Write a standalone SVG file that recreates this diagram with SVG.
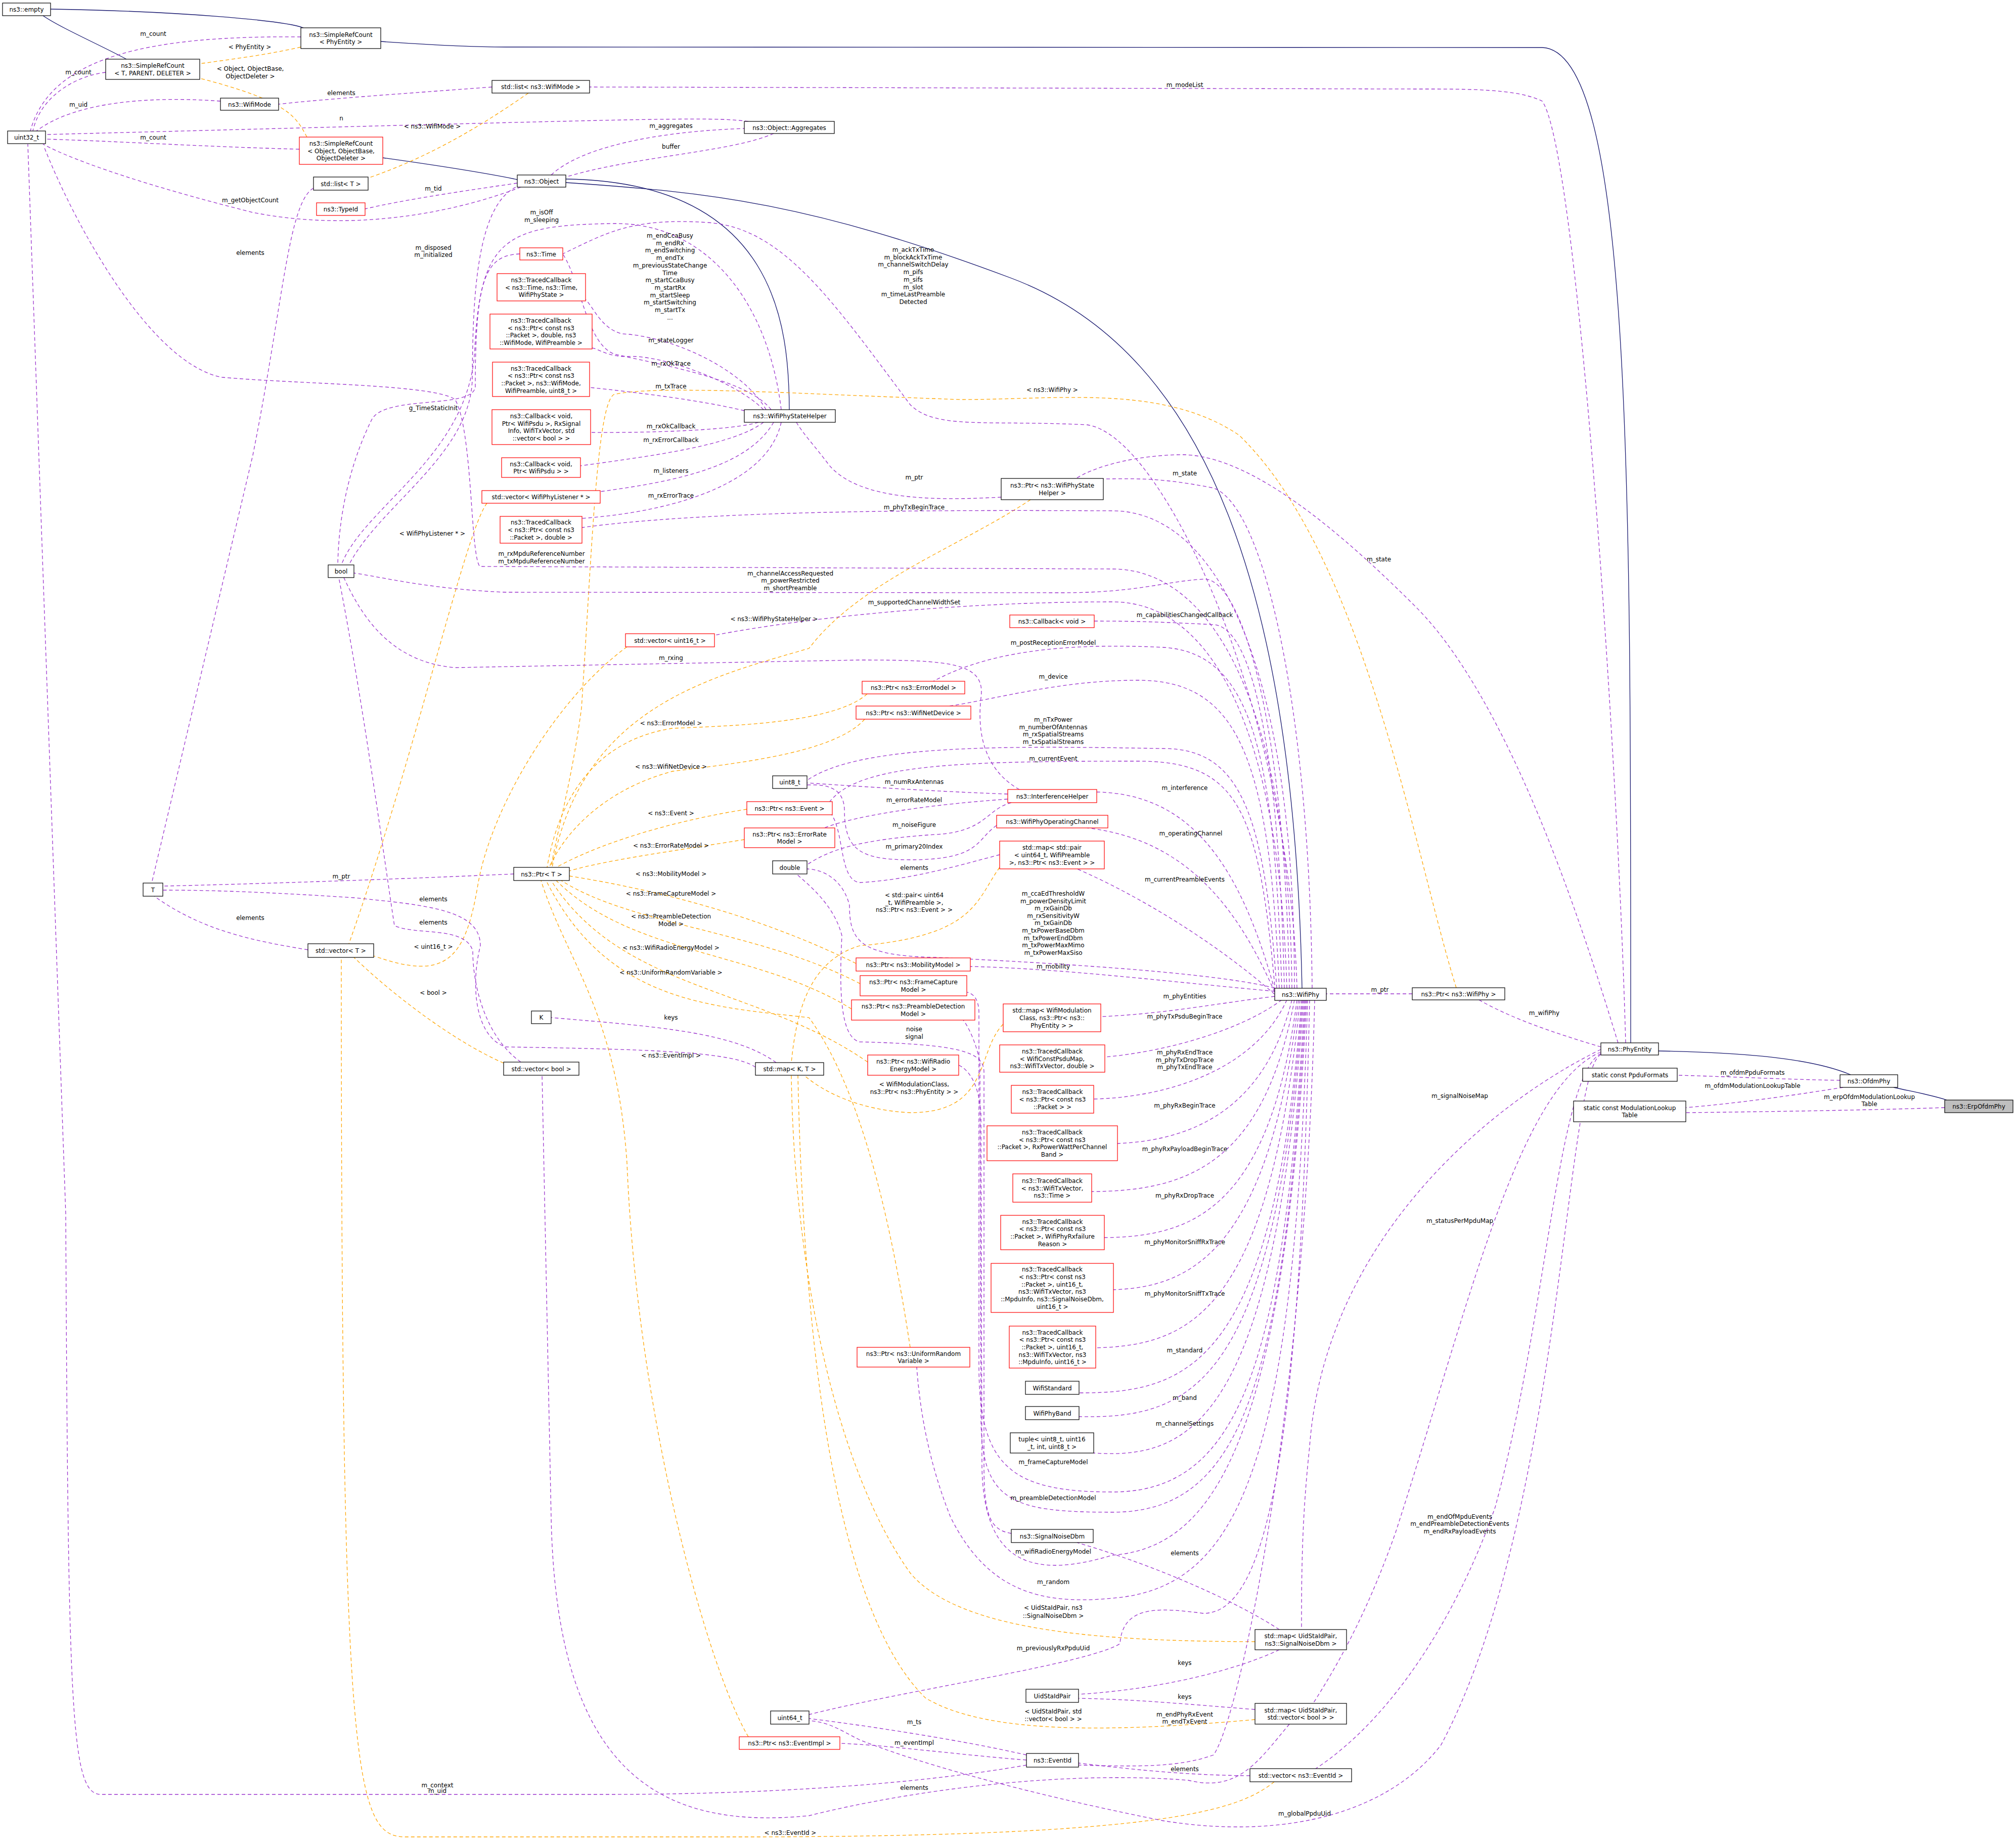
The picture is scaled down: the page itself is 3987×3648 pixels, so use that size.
<svg xmlns="http://www.w3.org/2000/svg" width="3987" height="3648" viewBox="0 0 3987 3648">
<style>
text{font-family:"DejaVu Sans","Liberation Sans",sans-serif;font-size:12px;text-anchor:middle;fill:#000}
rect{fill:#fff;stroke:#000;stroke-width:1.2}
rect.r{stroke:#f00}
rect.g{fill:#bfbfbf}
path{fill:none;stroke-width:1.3}
.e{stroke:#9a32cd;stroke-dasharray:7,5;marker-end:url(#mp)}
.o{stroke:#ffa500;stroke-dasharray:7,5;marker-end:url(#mo)}
.i{stroke:#191970;marker-end:url(#mi)}
</style>
<defs>
<marker id="mp" viewBox="0 0 10 10" refX="10" refY="5" markerWidth="15" markerHeight="11" markerUnits="userSpaceOnUse" orient="auto"><path d="M0,0L10,5L0,10z" fill="#9a32cd" stroke="none"/></marker>
<marker id="mo" viewBox="0 0 10 10" refX="10" refY="5" markerWidth="15" markerHeight="11" markerUnits="userSpaceOnUse" orient="auto"><path d="M0,0L10,5L0,10z" fill="#ffa500" stroke="none"/></marker>
<marker id="mi" viewBox="0 0 10 10" refX="10" refY="5" markerWidth="15" markerHeight="11" markerUnits="userSpaceOnUse" orient="auto"><path d="M0,0L10,5L0,10z" fill="#191970" stroke="none"/></marker>
</defs>
<rect x="0" y="0" width="3987" height="3648" style="stroke:none"/>
<g id="edges">
<path class="i" d="M600 55C560 40 350 22 100 18"/>
<path class="i" d="M250 117C200 90 120 55 85 31"/>
<path class="i" d="M1023 355C950 340 850 325 757 312"/>
<path class="i" d="M1561 810C1560 650 1540 360 1119 354"/>
<path class="i" d="M2575 1954C2560 1200 2400 700 2000 550S1400 380 1119 361"/>
<path class="i" d="M3225 2062C3225 1000 3230 100 3050 94L1000 93C900 93 800 85 753 82"/>
<path class="i" d="M3660 2125C3600 2100 3500 2082 3280 2078"/>
<path class="i" d="M3850 2175C3820 2165 3780 2158 3745 2150"/>
<path class="o" d="M595 93C520 110 450 118 395 126"/>
<path class="o" d="M607 271C585 230 570 200 396 155"/>
<path class="o" d="M1045 184C950 250 850 310 728 352"/>
<path class="o" d="M963 995C920 1050 820 1500 690 1866"/>
<path class="o" d="M1240 1279C1100 1380 970 1600 945 1750S880 1940 739 1890"/>
<path class="o" d="M996 2102C900 2060 780 1970 700 1893"/>
<path class="o" d="M2520 3523C2450 3580 2300 3630 1500 3632L800 3632C700 3630 675 3500 675 1893"/>
<path class="o" d="M2880 1953C2800 1700 2700 1100 2450 860C2300 760 2100 790 1900 790C1600 780 1300 760 1214 780C1180 800 1170 1100 1150 1400C1130 1550 1100 1650 1090 1715"/>
<path class="o" d="M2038 988C1900 1080 1700 1150 1600 1282C1400 1340 1150 1400 1092 1715"/>
<path class="o" d="M1715 1372C1650 1430 1450 1435 1330 1440C1200 1460 1110 1550 1082 1715"/>
<path class="o" d="M1710 1422C1650 1490 1450 1510 1330 1525C1200 1560 1120 1640 1086 1715"/>
<path class="o" d="M1477 1600C1350 1620 1200 1660 1100 1715"/>
<path class="o" d="M1472 1660C1350 1680 1200 1700 1126 1722"/>
<path class="o" d="M1693 1905C1500 1810 1300 1760 1126 1732"/>
<path class="o" d="M1701 1945C1500 1840 1250 1830 1110 1741"/>
<path class="o" d="M1684 1995C1500 1880 1250 1890 1100 1741"/>
<path class="o" d="M1716 2100C1500 1950 1230 1960 1090 1741"/>
<path class="o" d="M1800 2664C1760 2400 1700 2150 1600 2012C1400 1990 1200 1980 1080 1741"/>
<path class="o" d="M1480 3434C1400 3300 1260 2800 1240 2300C1220 2000 1120 1900 1070 1741"/>
<path class="o" d="M1977 1715C1930 1780 1930 1850 1700 1870C1600 1900 1575 2000 1565 2101"/>
<path class="o" d="M1984 2025C1930 2080 1960 2200 1800 2200C1700 2195 1630 2160 1590 2126"/>
<path class="o" d="M2482 3246C2200 3245 1900 3230 1800 3110C1650 2900 1570 2500 1565 2126"/>
<path class="o" d="M2482 3400C2200 3425 1950 3430 1830 3357C1660 3190 1590 2700 1578 2126"/>
<path class="e" d="M595 73C300 70 100 110 60 259"/>
<path class="e" d="M209 143C150 150 80 190 65 259"/>
<path class="e" d="M436 200C300 190 150 200 72 259"/>
<path class="e" d="M1480 240C1400 230 1300 235 90 266"/>
<path class="e" d="M592 295C400 290 250 280 90 275"/>
<path class="e" d="M1030 370C900 420 700 460 500 420C300 370 150 320 85 285"/>
<path class="e" d="M2030 3490C1800 3530 1500 3548 1200 3548L200 3548C140 3548 135 3400 130 2400L55 285"/>
<path class="e" d="M973 172C800 185 650 195 551 206"/>
<path class="e" d="M3215 2062C3200 1500 3120 300 3050 200C3000 175 2900 176 2800 176L1166 172"/>
<path class="e" d="M1090 346C1150 290 1300 260 1472 254"/>
<path class="e" d="M1530 264C1450 300 1250 310 1119 350"/>
<path class="e" d="M1023 362C900 380 800 395 722 413"/>
<path class="e" d="M620 372C570 400 560 600 500 900L300 1746"/>
<path class="e" d="M1020 370C940 410 935 600 934 750C930 900 750 1000 690 1117"/>
<path class="e" d="M1028 502C960 505 940 550 940 765C935 810 760 780 735 830C700 900 670 1000 668 1117"/>
<path class="e" d="M1545 810C1520 600 1400 440 1214 442C1000 445 950 470 939 689C930 900 720 1000 675 1117"/>
<path class="e" d="M1525 810C1480 750 1300 720 1215 700C1160 680 1150 560 1113 502"/>
<path class="e" d="M2565 1954C2550 1400 2300 860 2150 840C1950 830 1850 850 1800 800C1650 600 1550 450 1400 440C1250 430 1200 460 1113 502"/>
<path class="e" d="M1515 810C1470 730 1330 665 1230 660C1190 650 1175 610 1158 592"/>
<path class="e" d="M1510 810C1450 750 1300 700 1240 705C1200 705 1185 690 1171 688"/>
<path class="e" d="M1472 812C1380 790 1250 775 1166 766"/>
<path class="e" d="M1500 835C1450 850 1300 856 1168 855"/>
<path class="e" d="M1510 835C1450 880 1300 900 1148 921"/>
<path class="e" d="M1530 835C1480 920 1350 950 1187 972"/>
<path class="e" d="M1545 835C1520 950 1350 1010 1151 1025"/>
<path class="e" d="M2560 1954C2560 1300 2400 1010 2200 1010C1800 1008 1400 1010 1151 1043"/>
<path class="e" d="M2555 1954C2550 1400 2400 1125 2200 1125L949 1120C930 1100 935 850 900 790C860 760 600 760 439 746C300 720 150 450 87 290"/>
<path class="e" d="M2550 1954C2540 1400 2450 1140 2380 1145C2300 1150 2250 1172 2100 1172L1000 1171C850 1165 750 1140 700 1133"/>
<path class="e" d="M2545 1954C2530 1450 2400 1190 2200 1190C1900 1190 1600 1220 1413 1256"/>
<path class="e" d="M2016 1561C1960 1530 1930 1470 1940 1380C1950 1310 1880 1305 1700 1305L900 1320C780 1310 720 1230 680 1142"/>
<path class="e" d="M2540 1954C2530 1500 2480 1240 2400 1235C2300 1230 2250 1228 2164 1228"/>
<path class="e" d="M2535 1954C2520 1500 2480 1290 2300 1280C2100 1270 1950 1290 1846 1347"/>
<path class="e" d="M2530 1954C2510 1500 2450 1345 2250 1345C2100 1345 1980 1380 1878 1396"/>
<path class="e" d="M2525 1954C2500 1600 2450 1480 2300 1480C2000 1475 1700 1470 1596 1543"/>
<path class="e" d="M2522 1960C2490 1600 2450 1505 2250 1505C1900 1505 1700 1510 1641 1585"/>
<path class="e" d="M1993 1570C1850 1565 1700 1555 1596 1548"/>
<path class="e" d="M1993 1580C1850 1590 1700 1610 1630 1637"/>
<path class="e" d="M2000 1587C1950 1600 1950 1645 1850 1650C1700 1660 1640 1680 1596 1710"/>
<path class="e" d="M1971 1632C1930 1660 1940 1700 1800 1700C1700 1700 1670 1680 1670 1600C1668 1560 1640 1550 1596 1552"/>
<path class="e" d="M1977 1690C1900 1710 1800 1740 1700 1745C1660 1740 1670 1650 1645 1611"/>
<path class="e" d="M2521 1958C2450 1700 2350 1570 2169 1566"/>
<path class="e" d="M2521 1962C2450 1800 2350 1660 2150 1637"/>
<path class="e" d="M2521 1966C2400 1860 2250 1770 2130 1718"/>
<path class="e" d="M2521 1954C2400 1920 2000 1900 1850 1893C1700 1890 1680 1860 1680 1790C1670 1750 1640 1720 1596 1718"/>
<path class="e" d="M2521 1960C2300 1940 2100 1915 1919 1911"/>
<path class="e" d="M2521 1970C2400 1985 2300 2005 2177 2010"/>
<path class="e" d="M2535 1977C2450 2040 2300 2080 2185 2090"/>
<path class="e" d="M2545 1977C2480 2120 2300 2170 2163 2173"/>
<path class="e" d="M2555 1977C2500 2200 2350 2255 2210 2261"/>
<path class="e" d="M2560 1977C2500 2300 2350 2355 2159 2356"/>
<path class="e" d="M2565 1977C2510 2400 2350 2445 2184 2447"/>
<path class="e" d="M2568 1977C2510 2480 2350 2545 2202 2550"/>
<path class="e" d="M2571 1977C2510 2600 2350 2660 2167 2665"/>
<path class="e" d="M2574 1977C2520 2700 2350 2755 2134 2754"/>
<path class="e" d="M2576 1977C2520 2750 2350 2805 2134 2801"/>
<path class="e" d="M2578 1977C2520 2820 2350 2885 2163 2873"/>
<path class="e" d="M2580 1977C2540 2700 2450 2950 2200 2950C2000 2950 1936 2900 1936 2700L1936 2000C1935 1975 1925 1965 1913 1962"/>
<path class="e" d="M2582 1977C2540 2750 2450 2990 2200 2990C2000 2990 1940 2970 1940 2800L1938 2100C1930 2060 1915 2030 1905 2017"/>
<path class="e" d="M2584 1977C2540 2850 2400 3060 2200 3075C2050 3120 1945 3100 1942 2900L1940 2200C1935 2140 1915 2115 1896 2106"/>
<path class="e" d="M2586 1977C2560 2900 2450 3140 2200 3160C2050 3175 1950 3140 1880 3000C1840 2900 1820 2800 1813 2703"/>
<path class="e" d="M2000 3032C1960 3025 1946 3000 1946 2900L1946 2120C1946 2080 1900 2065 1700 2060C1660 2050 1660 1950 1665 1850C1650 1790 1600 1750 1575 1728"/>
<path class="e" d="M2590 1977C2570 2900 2500 3190 2380 3190C2300 3180 2220 3170 2215 3250C2150 3290 1800 3340 1600 3390"/>
<path class="e" d="M2600 1977C2580 2800 2450 3400 2400 3470C2330 3495 2250 3493 2133 3490"/>
<path class="e" d="M2530 3222C2450 3170 2300 3100 2130 3050"/>
<path class="e" d="M2530 3262C2450 3300 2300 3340 2133 3350"/>
<path class="e" d="M2482 3380C2350 3370 2250 3360 2133 3358"/>
<path class="e" d="M2550 3409C2490 3480 2450 3545 2350 3520C2100 3500 1800 3540 1600 3590C1300 3620 1100 3500 1090 3000L1072 2126"/>
<path class="e" d="M2472 3511C2350 3510 2250 3500 2133 3486"/>
<path class="e" d="M2030 3470C1900 3440 1700 3410 1600 3398"/>
<path class="e" d="M2030 3480C1900 3470 1750 3450 1661 3447"/>
<path class="e" d="M3166 2085C3095 2120 3090 3000 2850 3450C2750 3580 2550 3640 2300 3600C2000 3540 1800 3480 1700 3440C1660 3420 1640 3405 1600 3402"/>
<path class="e" d="M1535 2101C1450 2040 1300 2030 1090 2012"/>
<path class="e" d="M1494 2110C1450 2080 1300 2075 1000 2070C940 2050 930 1950 950 1870C950 1800 850 1790 700 1775C500 1762 400 1760 322 1760"/>
<path class="e" d="M1030 2100C960 2050 935 1950 935 1880C920 1830 820 1850 780 1830C760 1700 720 1400 670 1142"/>
<path class="e" d="M1016 1728C800 1738 500 1748 322 1752"/>
<path class="e" d="M609 1878C500 1860 400 1840 305 1772"/>
<path class="e" d="M1980 983C1850 990 1700 990 1640 920C1610 880 1590 860 1575 835"/>
<path class="e" d="M2595 1954C2590 1400 2500 1000 2400 965C2300 945 2250 946 2182 947"/>
<path class="e" d="M3200 2062C3150 1900 3000 1400 2800 1200C2600 1000 2450 900 2338 899C2250 900 2170 920 2128 946"/>
<path class="e" d="M2793 1965L2623 1965"/>
<path class="e" d="M3166 2070C3100 2050 3000 2020 2925 1977"/>
<path class="e" d="M3166 2075C2950 2180 2620 2450 2590 2860C2575 3000 2574 3100 2574 3222"/>
<path class="e" d="M3166 2080C3000 2150 2900 2600 2760 3030C2700 3200 2640 3300 2597 3368"/>
<path class="e" d="M3166 2083C3080 2130 3060 2600 2957 2980C2880 3200 2750 3400 2602 3497"/>
<path class="e" d="M3639 2136C3550 2135 3400 2128 3317 2126"/>
<path class="e" d="M3645 2150C3550 2165 3450 2180 3334 2190"/>
<path class="e" d="M3846 2190C3700 2195 3500 2198 3334 2200"/>
</g>
<g id="labels">
<text x="303" y="71">m_count</text>
<text x="494" y="97">&lt; PhyEntity &gt;</text>
<text x="155" y="147">m_count</text>
<text x="495" y="140">&lt; Object, ObjectBase,</text><text x="495" y="155">ObjectDeleter &gt;</text>
<text x="675" y="188">elements</text>
<text x="155" y="211">m_uid</text>
<text x="675" y="238">n</text>
<text x="855" y="254">&lt; ns3::WifiMode &gt;</text>
<text x="1327" y="253">m_aggregates</text>
<text x="303" y="276">m_count</text>
<text x="1327" y="294">buffer</text>
<text x="857" y="377">m_tid</text>
<text x="495" y="400">m_getObjectCount</text>
<text x="1071" y="424">m_isOff</text><text x="1071" y="439">m_sleeping</text>
<text x="857" y="494">m_disposed</text><text x="857" y="508">m_initialized</text>
<text x="495" y="504">elements</text>
<text x="1325" y="470"><tspan x="1325">m_endCcaBusy</tspan><tspan x="1325" dy="14.7">m_endRx</tspan><tspan x="1325" dy="14.7">m_endSwitching</tspan><tspan x="1325" dy="14.7">m_endTx</tspan><tspan x="1325" dy="14.7">m_previousStateChange</tspan><tspan x="1325" dy="14.7">Time</tspan><tspan x="1325" dy="14.7">m_startCcaBusy</tspan><tspan x="1325" dy="14.7">m_startRx</tspan><tspan x="1325" dy="14.7">m_startSleep</tspan><tspan x="1325" dy="14.7">m_startSwitching</tspan><tspan x="1325" dy="14.7">m_startTx</tspan><tspan x="1325" dy="14.7">...</tspan></text>
<text x="1327" y="677">m_stateLogger</text>
<text x="1327" y="723">m_rxOkTrace</text>
<text x="1327" y="768">m_txTrace</text>
<text x="857" y="811">g_TimeStaticInit</text>
<text x="1327" y="847">m_rxOkCallback</text>
<text x="1327" y="874">m_rxErrorCallback</text>
<text x="1327" y="935">m_listeners</text>
<text x="1327" y="984">m_rxErrorTrace</text>
<text x="855" y="1059">&lt; WifiPhyListener * &gt;</text>
<text x="1071" y="1099">m_rxMpduReferenceNumber</text><text x="1071" y="1114">m_txMpduReferenceNumber</text>
<text x="2343" y="172">m_modeList</text>
<text x="1806" y="498"><tspan x="1806">m_ackTxTime</tspan><tspan x="1806" dy="14.7">m_blockAckTxTime</tspan><tspan x="1806" dy="14.7">m_channelSwitchDelay</tspan><tspan x="1806" dy="14.7">m_pifs</tspan><tspan x="1806" dy="14.7">m_sifs</tspan><tspan x="1806" dy="14.7">m_slot</tspan><tspan x="1806" dy="14.7">m_timeLastPreamble</tspan><tspan x="1806" dy="14.7">Detected</tspan></text>
<text x="2081" y="775">&lt; ns3::WifiPhy &gt;</text>
<text x="2343" y="940">m_state</text>
<text x="1808" y="948">m_ptr</text>
<text x="1808" y="1007">m_phyTxBeginTrace</text>
<text x="2727" y="1110">m_state</text>
<text x="1563" y="1138">m_channelAccessRequested</text><text x="1563" y="1152">m_powerRestricted</text><text x="1563" y="1167">m_shortPreamble</text>
<text x="1808" y="1195">m_supportedChannelWidthSet</text>
<text x="1531" y="1228">&lt; ns3::WifiPhyStateHelper &gt;</text>
<text x="1327" y="1305">m_rxing</text>
<text x="1327" y="1434">&lt; ns3::ErrorModel &gt;</text>
<text x="1327" y="1520">&lt; ns3::WifiNetDevice &gt;</text>
<text x="1327" y="1612">&lt; ns3::Event &gt;</text>
<text x="1327" y="1676">&lt; ns3::ErrorRateModel &gt;</text>
<text x="1327" y="1732">&lt; ns3::MobilityModel &gt;</text>
<text x="675" y="1737">m_ptr</text>
<text x="1327" y="1771">&lt; ns3::FrameCaptureModel &gt;</text>
<text x="857" y="1782">elements</text>
<text x="1327" y="1816">&lt; ns3::PreambleDetection</text><text x="1327" y="1831">Model &gt;</text>
<text x="495" y="1819">elements</text>
<text x="857" y="1828">elements</text>
<text x="857" y="1876">&lt; uint16_t &gt;</text>
<text x="1327" y="1878">&lt; ns3::WifiRadioEnergyModel &gt;</text>
<text x="1327" y="1927">&lt; ns3::UniformRandomVariable &gt;</text>
<text x="857" y="1967">&lt; bool &gt;</text>
<text x="1327" y="2016">keys</text>
<text x="1327" y="2091">&lt; ns3::EventImpl &gt;</text>
<text x="2343" y="1220">m_capabilitiesChangedCallback</text>
<text x="2083" y="1275">m_postReceptionErrorModel</text>
<text x="2083" y="1342">m_device</text>
<text x="2083" y="1427"><tspan x="2083">m_nTxPower</tspan><tspan x="2083" dy="14.7">m_numberOfAntennas</tspan><tspan x="2083" dy="14.7">m_rxSpatialStreams</tspan><tspan x="2083" dy="14.7">m_txSpatialStreams</tspan></text>
<text x="2083" y="1504">m_currentEvent</text>
<text x="1808" y="1550">m_numRxAntennas</text>
<text x="2343" y="1562">m_interference</text>
<text x="1808" y="1586">m_errorRateModel</text>
<text x="1808" y="1635">m_noiseFigure</text>
<text x="2355" y="1652">m_operatingChannel</text>
<text x="1808" y="1678">m_primary20Index</text>
<text x="1808" y="1720">elements</text>
<text x="2343" y="1743">m_currentPreambleEvents</text>
<text x="1808" y="1774"><tspan x="1808">&lt; std::pair&lt; uint64</tspan><tspan x="1808" dy="14.7">_t, WifiPreamble &gt;,</tspan><tspan x="1808" dy="14.7">ns3::Ptr&lt; ns3::Event &gt; &gt;</tspan></text>
<text x="2083" y="1771"><tspan x="2083">m_ccaEdThresholdW</tspan><tspan x="2083" dy="14.6">m_powerDensityLimit</tspan><tspan x="2083" dy="14.6">m_rxGainDb</tspan><tspan x="2083" dy="14.6">m_rxSensitivityW</tspan><tspan x="2083" dy="14.6">m_txGainDb</tspan><tspan x="2083" dy="14.6">m_txPowerBaseDbm</tspan><tspan x="2083" dy="14.6">m_txPowerEndDbm</tspan><tspan x="2083" dy="14.6">m_txPowerMaxMimo</tspan><tspan x="2083" dy="14.6">m_txPowerMaxSiso</tspan></text>
<text x="2083" y="1915">m_mobility</text>
<text x="2343" y="1974">m_phyEntities</text>
<text x="2343" y="2014">m_phyTxPsduBeginTrace</text>
<text x="1808" y="2039">noise</text><text x="1808" y="2054">signal</text>
<text x="2343" y="2085">m_phyRxEndTrace</text><text x="2343" y="2100">m_phyTxDropTrace</text><text x="2343" y="2114">m_phyTxEndTrace</text>
<text x="1808" y="2148">&lt; WifiModulationClass,</text><text x="1808" y="2163">ns3::Ptr&lt; ns3::PhyEntity &gt; &gt;</text>
<text x="2343" y="2190">m_phyRxBeginTrace</text>
<text x="2343" y="2276">m_phyRxPayloadBeginTrace</text>
<text x="2343" y="2368">m_phyRxDropTrace</text>
<text x="2343" y="2460">m_phyMonitorSniffRxTrace</text>
<text x="2343" y="2562">m_phyMonitorSniffTxTrace</text>
<text x="2343" y="2674">m_standard</text>
<text x="2343" y="2768">m_band</text>
<text x="2343" y="2819">m_channelSettings</text>
<text x="2083" y="2895">m_frameCaptureModel</text>
<text x="2083" y="2966">m_preambleDetectionModel</text>
<text x="2083" y="3072">m_wifiRadioEnergyModel</text>
<text x="2343" y="3075">elements</text>
<text x="2083" y="3132">m_random</text>
<text x="2083" y="3183">&lt; UidStaIdPair, ns3</text><text x="2083" y="3199">::SignalNoiseDbm &gt;</text>
<text x="2083" y="3263">m_previouslyRxPpduUid</text>
<text x="2343" y="3292">keys</text>
<text x="2343" y="3359">keys</text>
<text x="2083" y="3388">&lt; UidStaIdPair, std</text><text x="2083" y="3403">::vector&lt; bool &gt; &gt;</text>
<text x="2343" y="3394">m_endPhyRxEvent</text><text x="2343" y="3408">m_endTxEvent</text>
<text x="1808" y="3409">m_ts</text>
<text x="1808" y="3450">m_eventImpl</text>
<text x="2343" y="3502">elements</text>
<text x="1808" y="3539">elements</text>
<text x="865" y="3534">m_context</text><text x="865" y="3545">m_uid</text>
<text x="2580" y="3590">m_globalPpduUid</text>
<text x="1563" y="3628">&lt; ns3::EventId &gt;</text>
<text x="2729" y="1961">m_ptr</text>
<text x="3054" y="2007">m_wifiPhy</text>
<text x="3466" y="2125">m_ofdmPpduFormats</text>
<text x="3466" y="2151">m_ofdmModulationLookupTable</text>
<text x="3697" y="2173">m_erpOfdmModulationLookup</text><text x="3697" y="2187">Table</text>
<text x="2887" y="2171">m_signalNoiseMap</text>
<text x="2887" y="2418">m_statusPerMpduMap</text>
<text x="2887" y="3003">m_endOfMpduEvents</text><text x="2887" y="3017">m_endPreambleDetectionEvents</text><text x="2887" y="3032">m_endRxPayloadEvents</text>
</g>
<g id="empty"><rect x="5" y="6" width="95" height="25"/><text x="52.5" y="23">ns3::empty</text></g>
<g id="src_phy"><rect x="595" y="55" width="158" height="41"/><text x="674" y="72.7"><tspan x="674">ns3::SimpleRefCount</tspan><tspan x="674" dy="14.7">&lt; PhyEntity &gt;</tspan></text></g>
<g id="src_tpd"><rect x="209" y="117" width="186" height="40"/><text x="302" y="134"><tspan x="302">ns3::SimpleRefCount</tspan><tspan x="302" dy="14.7">&lt; T, PARENT, DELETER &gt;</tspan></text></g>
<g id="listmode"><rect x="973" y="159" width="193" height="25"/><text x="1069.5" y="176">std::list&lt; ns3::WifiMode &gt;</text></g>
<g id="wifimode"><rect x="436" y="194" width="115" height="24"/><text x="493.5" y="210.5">ns3::WifiMode</text></g>
<g id="uint32"><rect x="15" y="259" width="75" height="25"/><text x="52.5" y="276">uint32_t</text></g>
<g id="aggr"><rect x="1472" y="240" width="178" height="24"/><text x="1561" y="256.5">ns3::Object::Aggregates</text></g>
<g id="src_obj"><rect class="r" x="592" y="271" width="165" height="54"/><text x="674.5" y="287.8"><tspan x="674.5">ns3::SimpleRefCount</tspan><tspan x="674.5" dy="14.7">&lt; Object, ObjectBase,</tspan><tspan x="674.5" dy="14.7">ObjectDeleter &gt;</tspan></text></g>
<g id="object"><rect x="1023" y="346" width="96" height="24"/><text x="1071" y="362.5">ns3::Object</text></g>
<g id="listT"><rect x="620" y="350" width="108" height="26"/><text x="674" y="367.5">std::list&lt; T &gt;</text></g>
<g id="typeid"><rect class="r" x="626" y="401" width="96" height="25"/><text x="674" y="418">ns3::TypeId</text></g>
<g id="time"><rect class="r" x="1028" y="490" width="85" height="24"/><text x="1070.5" y="506.5">ns3::Time</text></g>
<g id="tc1"><rect class="r" x="983" y="541" width="175" height="54"/><text x="1070.5" y="557.8"><tspan x="1070.5">ns3::TracedCallback</tspan><tspan x="1070.5" dy="14.7">&lt; ns3::Time, ns3::Time,</tspan><tspan x="1070.5" dy="14.7">WifiPhyState &gt;</tspan></text></g>
<g id="tc2"><rect class="r" x="969" y="621" width="202" height="69"/><text x="1070" y="638"><tspan x="1070">ns3::TracedCallback</tspan><tspan x="1070" dy="14.7">&lt; ns3::Ptr&lt; const ns3</tspan><tspan x="1070" dy="14.7">::Packet &gt;, double, ns3</tspan><tspan x="1070" dy="14.7">::WifiMode, WifiPreamble &gt;</tspan></text></g>
<g id="tc3"><rect class="r" x="974" y="716" width="192" height="68"/><text x="1070" y="732.5"><tspan x="1070">ns3::TracedCallback</tspan><tspan x="1070" dy="14.7">&lt; ns3::Ptr&lt; const ns3</tspan><tspan x="1070" dy="14.7">::Packet &gt;, ns3::WifiMode,</tspan><tspan x="1070" dy="14.7">WifiPreamble, uint8_t &gt;</tspan></text></g>
<g id="cb1"><rect class="r" x="973" y="810" width="195" height="69"/><text x="1070.5" y="827"><tspan x="1070.5">ns3::Callback&lt; void,</tspan><tspan x="1070.5" dy="14.7">Ptr&lt; WifiPsdu &gt;, RxSignal</tspan><tspan x="1070.5" dy="14.7">Info, WifiTxVector, std</tspan><tspan x="1070.5" dy="14.7">::vector&lt; bool &gt; &gt;</tspan></text></g>
<g id="cb2"><rect class="r" x="992" y="905" width="156" height="39"/><text x="1070" y="921.7"><tspan x="1070">ns3::Callback&lt; void,</tspan><tspan x="1070" dy="14.7">Ptr&lt; WifiPsdu &gt; &gt;</tspan></text></g>
<g id="veclisten"><rect class="r" x="953" y="970" width="234" height="25"/><text x="1070" y="987">std::vector&lt; WifiPhyListener * &gt;</text></g>
<g id="tc4"><rect class="r" x="989" y="1021" width="162" height="53"/><text x="1070" y="1037.3"><tspan x="1070">ns3::TracedCallback</tspan><tspan x="1070" dy="14.7">&lt; ns3::Ptr&lt; const ns3</tspan><tspan x="1070" dy="14.7">::Packet &gt;, double &gt;</tspan></text></g>
<g id="bool"><rect x="649" y="1117" width="51" height="25"/><text x="674.5" y="1134">bool</text></g>
<g id="wpsh"><rect x="1472" y="810" width="180" height="25"/><text x="1562" y="827">ns3::WifiPhyStateHelper</text></g>
<g id="ptrwpsh"><rect x="1980" y="946" width="202" height="42"/><text x="2081" y="964.2"><tspan x="2081">ns3::Ptr&lt; ns3::WifiPhyState</tspan><tspan x="2081" dy="14.7">Helper &gt;</tspan></text></g>
<g id="vecu16"><rect class="r" x="1237" y="1253" width="176" height="26"/><text x="1325" y="1270.5">std::vector&lt; uint16_t &gt;</text></g>
<g id="cbvoid"><rect class="r" x="1997" y="1216" width="167" height="25"/><text x="2080.5" y="1233">ns3::Callback&lt; void &gt;</text></g>
<g id="ptrerr"><rect class="r" x="1705" y="1347" width="203" height="25"/><text x="1806.5" y="1364">ns3::Ptr&lt; ns3::ErrorModel &gt;</text></g>
<g id="ptrnd"><rect class="r" x="1693" y="1396" width="227" height="26"/><text x="1806.5" y="1413.5">ns3::Ptr&lt; ns3::WifiNetDevice &gt;</text></g>
<g id="uint8"><rect x="1528" y="1534" width="68" height="25"/><text x="1562" y="1551">uint8_t</text></g>
<g id="ptrevent"><rect class="r" x="1477" y="1585" width="169" height="26"/><text x="1561.5" y="1602.5">ns3::Ptr&lt; ns3::Event &gt;</text></g>
<g id="ifh"><rect class="r" x="1993" y="1561" width="176" height="26"/><text x="2081" y="1578.5">ns3::InterferenceHelper</text></g>
<g id="ptrerm"><rect class="r" x="1472" y="1637" width="179" height="39"/><text x="1561.5" y="1653.7"><tspan x="1561.5">ns3::Ptr&lt; ns3::ErrorRate</tspan><tspan x="1561.5" dy="14.7">Model &gt;</tspan></text></g>
<g id="opch"><rect class="r" x="1971" y="1612" width="220" height="25"/><text x="2081" y="1629">ns3::WifiPhyOperatingChannel</text></g>
<g id="mappair"><rect class="r" x="1977" y="1663" width="207" height="55"/><text x="2080.5" y="1680.3"><tspan x="2080.5">std::map&lt; std::pair</tspan><tspan x="2080.5" dy="14.7">&lt; uint64_t, WifiPreamble</tspan><tspan x="2080.5" dy="14.7">&gt;, ns3::Ptr&lt; ns3::Event &gt; &gt;</tspan></text></g>
<g id="double"><rect x="1528" y="1702" width="68" height="26"/><text x="1562" y="1719.5">double</text></g>
<g id="ptrT"><rect x="1016" y="1715" width="110" height="26"/><text x="1071" y="1732.5">ns3::Ptr&lt; T &gt;</text></g>
<g id="T"><rect x="283" y="1746" width="39" height="26"/><text x="302.5" y="1763.5">T</text></g>
<g id="vecT"><rect x="609" y="1866" width="130" height="27"/><text x="674" y="1884">std::vector&lt; T &gt;</text></g>
<g id="ptrmob"><rect class="r" x="1693" y="1894" width="226" height="26"/><text x="1806" y="1911.5">ns3::Ptr&lt; ns3::MobilityModel &gt;</text></g>
<g id="ptrfc"><rect class="r" x="1701" y="1929" width="211" height="40"/><text x="1806.5" y="1946.2"><tspan x="1806.5">ns3::Ptr&lt; ns3::FrameCapture</tspan><tspan x="1806.5" dy="14.7">Model &gt;</tspan></text></g>
<g id="ptrpd"><rect class="r" x="1684" y="1977" width="244" height="40"/><text x="1806" y="1994.2"><tspan x="1806">ns3::Ptr&lt; ns3::PreambleDetection</tspan><tspan x="1806" dy="14.7">Model &gt;</tspan></text></g>
<g id="mapmod"><rect class="r" x="1984" y="1985" width="193" height="55"/><text x="2080.5" y="2002.3"><tspan x="2080.5">std::map&lt; WifiModulation</tspan><tspan x="2080.5" dy="14.7">Class, ns3::Ptr&lt; ns3::</tspan><tspan x="2080.5" dy="14.7">PhyEntity &gt; &gt;</tspan></text></g>
<g id="K"><rect x="1051" y="1999" width="39" height="25"/><text x="1070.5" y="2016">K</text></g>
<g id="vecbool"><rect x="996" y="2100" width="149" height="26"/><text x="1070.5" y="2117.5">std::vector&lt; bool &gt;</text></g>
<g id="mapKT"><rect x="1494" y="2101" width="135" height="25"/><text x="1561.5" y="2118">std::map&lt; K, T &gt;</text></g>
<g id="ptrre"><rect class="r" x="1716" y="2086" width="180" height="40"/><text x="1806" y="2103.2"><tspan x="1806">ns3::Ptr&lt; ns3::WifiRadio</tspan><tspan x="1806" dy="14.7">EnergyModel &gt;</tspan></text></g>
<g id="tc5"><rect class="r" x="1977" y="2066" width="208" height="54"/><text x="2081" y="2082.8"><tspan x="2081">ns3::TracedCallback</tspan><tspan x="2081" dy="14.7">&lt; WifiConstPsduMap,</tspan><tspan x="2081" dy="14.7">ns3::WifiTxVector, double &gt;</tspan></text></g>
<g id="wifiphy"><rect x="2521" y="1954" width="102" height="24"/><text x="2572" y="1970.5">ns3::WifiPhy</text></g>
<g id="tc6"><rect class="r" x="2000" y="2146" width="163" height="55"/><text x="2081.5" y="2163.3"><tspan x="2081.5">ns3::TracedCallback</tspan><tspan x="2081.5" dy="14.7">&lt; ns3::Ptr&lt; const ns3</tspan><tspan x="2081.5" dy="14.7">::Packet &gt; &gt;</tspan></text></g>
<g id="tc7"><rect class="r" x="1952" y="2226" width="258" height="69"/><text x="2081" y="2243"><tspan x="2081">ns3::TracedCallback</tspan><tspan x="2081" dy="14.7">&lt; ns3::Ptr&lt; const ns3</tspan><tspan x="2081" dy="14.7">::Packet &gt;, RxPowerWattPerChannel</tspan><tspan x="2081" dy="14.7">Band &gt;</tspan></text></g>
<g id="tc8"><rect class="r" x="2003" y="2321" width="156" height="56"/><text x="2081" y="2338.8"><tspan x="2081">ns3::TracedCallback</tspan><tspan x="2081" dy="14.7">&lt; ns3::WifiTxVector,</tspan><tspan x="2081" dy="14.7">ns3::Time &gt;</tspan></text></g>
<g id="tc9"><rect class="r" x="1979" y="2403" width="205" height="68"/><text x="2081.5" y="2419.5"><tspan x="2081.5">ns3::TracedCallback</tspan><tspan x="2081.5" dy="14.7">&lt; ns3::Ptr&lt; const ns3</tspan><tspan x="2081.5" dy="14.7">::Packet &gt;, WifiPhyRxfailure</tspan><tspan x="2081.5" dy="14.7">Reason &gt;</tspan></text></g>
<g id="tc10"><rect class="r" x="1960" y="2498" width="242" height="97"/><text x="2081" y="2514.3"><tspan x="2081">ns3::TracedCallback</tspan><tspan x="2081" dy="14.7">&lt; ns3::Ptr&lt; const ns3</tspan><tspan x="2081" dy="14.7">::Packet &gt;, uint16_t,</tspan><tspan x="2081" dy="14.7">ns3::WifiTxVector, ns3</tspan><tspan x="2081" dy="14.7">::MpduInfo, ns3::SignalNoiseDbm,</tspan><tspan x="2081" dy="14.7">uint16_t &gt;</tspan></text></g>
<g id="tc11"><rect class="r" x="1996" y="2622" width="171" height="83"/><text x="2081.5" y="2638.6"><tspan x="2081.5">ns3::TracedCallback</tspan><tspan x="2081.5" dy="14.7">&lt; ns3::Ptr&lt; const ns3</tspan><tspan x="2081.5" dy="14.7">::Packet &gt;, uint16_t,</tspan><tspan x="2081.5" dy="14.7">ns3::WifiTxVector, ns3</tspan><tspan x="2081.5" dy="14.7">::MpduInfo, uint16_t &gt;</tspan></text></g>
<g id="ptrurv"><rect class="r" x="1695" y="2664" width="223" height="39"/><text x="1806.5" y="2680.7"><tspan x="1806.5">ns3::Ptr&lt; ns3::UniformRandom</tspan><tspan x="1806.5" dy="14.7">Variable &gt;</tspan></text></g>
<g id="wstd"><rect x="2028" y="2731" width="106" height="26"/><text x="2081" y="2748.5">WifiStandard</text></g>
<g id="wband"><rect x="2028" y="2781" width="106" height="26"/><text x="2081" y="2798.5">WifiPhyBand</text></g>
<g id="tuple"><rect x="1998" y="2833" width="165" height="40"/><text x="2080.5" y="2850.2"><tspan x="2080.5">tuple&lt; uint8_t, uint16</tspan><tspan x="2080.5" dy="14.7">_t, int, uint8_t &gt;</tspan></text></g>
<g id="snd"><rect x="2000" y="3024" width="162" height="26"/><text x="2081" y="3041.5">ns3::SignalNoiseDbm</text></g>
<g id="mapsnd"><rect x="2482" y="3222" width="181" height="40"/><text x="2572.5" y="3239.2"><tspan x="2572.5">std::map&lt; UidStaIdPair,</tspan><tspan x="2572.5" dy="14.7">ns3::SignalNoiseDbm &gt;</tspan></text></g>
<g id="uidsta"><rect x="2029" y="3340" width="104" height="26"/><text x="2081" y="3357.5">UidStaIdPair</text></g>
<g id="uint64"><rect x="1524" y="3383" width="76" height="26"/><text x="1562" y="3400.5">uint64_t</text></g>
<g id="mapvb"><rect x="2482" y="3368" width="181" height="41"/><text x="2572.5" y="3385.7"><tspan x="2572.5">std::map&lt; UidStaIdPair,</tspan><tspan x="2572.5" dy="14.7">std::vector&lt; bool &gt; &gt;</tspan></text></g>
<g id="ptrei"><rect class="r" x="1462" y="3434" width="199" height="25"/><text x="1561.5" y="3451">ns3::Ptr&lt; ns3::EventImpl &gt;</text></g>
<g id="eventid"><rect x="2030" y="3467" width="103" height="27"/><text x="2081.5" y="3485">ns3::EventId</text></g>
<g id="veceid"><rect x="2472" y="3497" width="201" height="26"/><text x="2572.5" y="3514.5">std::vector&lt; ns3::EventId &gt;</text></g>
<g id="ptrwifiphy"><rect x="2793" y="1953" width="183" height="24"/><text x="2884.5" y="1969.5">ns3::Ptr&lt; ns3::WifiPhy &gt;</text></g>
<g id="phyentity"><rect x="3166" y="2062" width="114" height="24"/><text x="3223" y="2078.5">ns3::PhyEntity</text></g>
<g id="ppduf"><rect x="3130" y="2112" width="187" height="26"/><text x="3223.5" y="2129.5">static const PpduFormats</text></g>
<g id="ofdm"><rect x="3639" y="2125" width="114" height="25"/><text x="3696" y="2142">ns3::OfdmPhy</text></g>
<g id="modlut"><rect x="3112" y="2177" width="222" height="41"/><text x="3223" y="2194.7"><tspan x="3223">static const ModulationLookup</tspan><tspan x="3223" dy="14.7">Table</tspan></text></g>
<g id="erp"><rect class="g" x="3846" y="2175" width="135" height="25"/><text x="3913.5" y="2192">ns3::ErpOfdmPhy</text></g>
</svg>
